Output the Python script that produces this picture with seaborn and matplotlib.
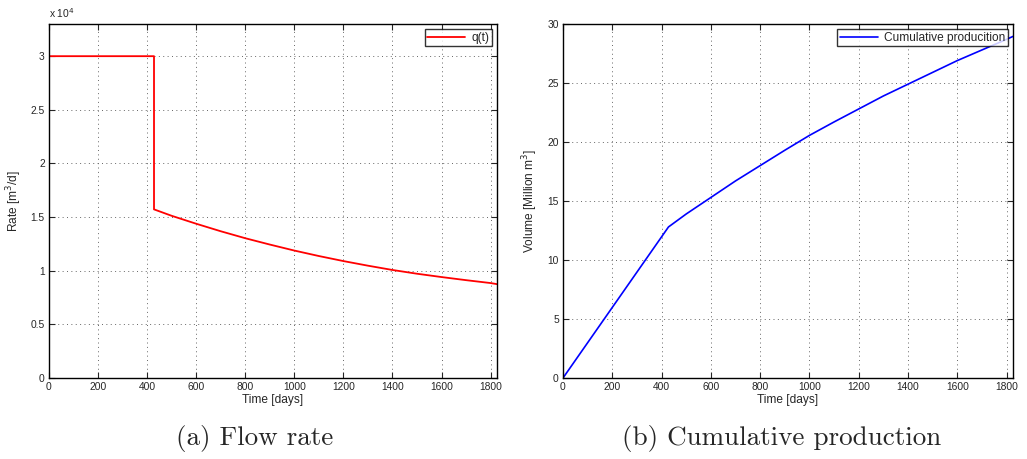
import matplotlib
matplotlib.use("Agg")
import matplotlib.pyplot as plt
import matplotlib.font_manager as fm
import seaborn as sns
import pandas as pd
from matplotlib.ticker import FuncFormatter, MultipleLocator

# ---- data ----
rate_time = [0, 428, 428, 500, 600, 700, 800, 900, 1000, 1100, 1200, 1300, 1400, 1500, 1600, 1700, 1800, 1826]
rate_q = [30000, 30000, 15720, 15120, 14380, 13680, 13030, 12440, 11880, 11370, 10900, 10470, 10070, 9720, 9410, 9120, 8850, 8750]

cum_time = [0, 428, 500, 600, 700, 800, 900, 1000, 1100, 1200, 1300, 1400, 1500, 1600, 1700, 1800, 1826]
cum_vol = [0.0, 12.8, 13.9, 15.3, 16.7, 18.0, 19.3, 20.56, 21.7, 22.8, 23.9, 24.9, 25.9, 26.9, 27.8, 28.7, 28.95]

x_ticks = [0, 200, 400, 600, 800, 1000, 1200, 1400, 1600, 1800]

# make sure the regular (not narrow) Liberation Sans is used
fm.fontManager.ttflist = [f for f in fm.fontManager.ttflist if "Narrow" not in f.fname]

sns.set_style("ticks")
plt.rcParams['font.family'] = ['Liberation Sans', 'DejaVu Sans']
plt.rcParams['font.stretch'] = 'normal'

fig = plt.figure(figsize=(10.27, 4.59), dpi=100)
ax1 = fig.add_axes([49/1027, 1-378/459, 448/1027, 354/459])
ax2 = fig.add_axes([563/1027, 1-378/459, 450/1027, 354/459])

df_rate = pd.DataFrame({"t": rate_time, "q": rate_q})
df_cum = pd.DataFrame({"t": cum_time, "v": cum_vol})

sns.lineplot(data=df_rate, x="t", y="q", ax=ax1, color="#ff0000", lw=1.3,
             estimator=None, sort=False, label="q(t)")
sns.lineplot(data=df_cum, x="t", y="v", ax=ax2, color="#0000ff", lw=1.2,
             estimator=None, sort=False, label="Cumulative producition")

fs = 7.4
lfs = 8.6
for ax in (ax1, ax2):
    ax.set_xlim(0, 1826)
    ax.set_xticks(x_ticks)
    ax.grid(True, color="#666666", linestyle=(0, (1, 3.5)), lw=0.7)
    ax.tick_params(direction="in", top=True, right=True, labelsize=fs,
                   length=4, width=0.8, pad=3)
    for s in ax.spines.values():
        s.set_visible(True)
        s.set_linewidth(1.0)
        s.set_color("black")
    ax.set_xlabel("Time [days]", fontsize=lfs, labelpad=1)
    leg = ax.legend(loc="upper right", fontsize=lfs, frameon=True, fancybox=False,
                    borderaxespad=0.45, handlelength=3.2, borderpad=0.2,
                    handletextpad=0.5)
    leg.get_frame().set_edgecolor("black")
    leg.get_frame().set_linewidth(1.0)

ax1.set_ylim(0, 33000)
ax1.yaxis.set_major_locator(MultipleLocator(5000))
ax1.yaxis.set_major_formatter(FuncFormatter(lambda v, p: f"{v/1e4:g}"))
ax1.set_ylabel("Rate [m$^3$/d]", fontsize=lfs, labelpad=5)
ax1.text(0.0, 1.012, "x 10$^4$", transform=ax1.transAxes, fontsize=fs,
         ha="left", va="bottom")

ax2.set_ylim(0, 30)
ax2.set_yticks([0, 5, 10, 15, 20, 25, 30])
ax2.set_ylabel("Volume [Million m$^3$]", fontsize=lfs, labelpad=5)

fig.text(255/1027, 1-438/459, "(a) Flow rate", family="cmr10", fontsize=19.5,
         ha="center", va="center")
fig.text(782/1027, 1-438/459, "(b) Cumulative production", family="cmr10", fontsize=19.5,
         ha="center", va="center")

fig.savefig("out.png", dpi=100)
